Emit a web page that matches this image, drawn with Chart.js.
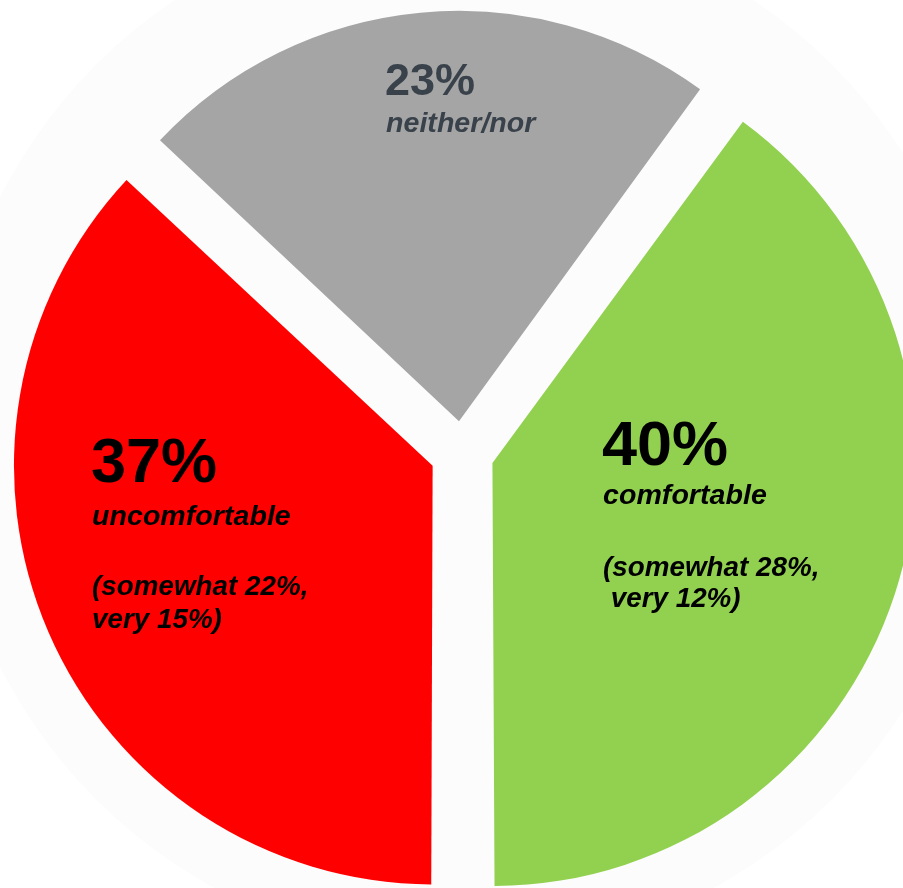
<!DOCTYPE html>
<html><head><meta charset="utf-8">
<script src="https://cdn.jsdelivr.net/npm/chart.js@4.4.0/dist/chart.umd.min.js"></script>
<style>html,body{margin:0;padding:0;background:#fff;overflow:hidden}#c{display:block}</style>
</head><body>
<canvas id="c" width="903" height="888"></canvas>
<script>
// ---- data ----
const categories = ['comfortable', 'uncomfortable', 'neither/nor'];
const values = [40, 37, 23];
const somewhat = [28, 22, null];
const very = [12, 15, null];
const colors = ['#92d050', '#ff0000', '#a5a5a5'];
const textColors = ['#000000', '#000000', '#39424a'];

// label placement relative to pie centre (px)
const labelDX = [140, -371, -77];
const pctDY = [12, 29, -358];
const pctSize = [63, 63, 45];
const catDY = [51, 72, -321];
const det1DY = [123, 142, null];
const det2DY = [154, 175, null];
const det2Prefix = [' ', '', ''];

const bgCircle = {
  id: 'bgCircle',
  beforeDraw(chart) {
    const ctx = chart.ctx;
    ctx.save();
    ctx.fillStyle = '#ffffff';
    ctx.fillRect(0, 0, chart.width, chart.height);
    ctx.fillStyle = '#fcfcfc';
    ctx.beginPath();
    ctx.arc(464, 432, 520, 0, Math.PI * 2);
    ctx.fill();
    ctx.restore();
  }
};

function stretchText(ctx, txt, x, y, sx) {
  ctx.save();
  ctx.translate(x, y);
  ctx.scale(sx, 1);
  ctx.fillText(txt, 0, 0);
  ctx.restore();
}

const sliceLabels = {
  id: 'sliceLabels',
  afterDatasetsDraw(chart) {
    const ctx = chart.ctx;
    const meta = chart.getDatasetMeta(0);
    ctx.save();
    ctx.textBaseline = 'alphabetic';
    ctx.textAlign = 'left';
    meta.data.forEach((arc, i) => {
      const cx = arc.x, cy = arc.y;
      const x = cx + labelDX[i];
      ctx.fillStyle = textColors[i];
      ctx.font = 'bold ' + pctSize[i] + 'px "Liberation Sans", Arial, sans-serif';
      ctx.fillText(values[i] + '%', x, cy + pctDY[i]);
      ctx.font = 'italic bold 27px "Liberation Sans", Arial, sans-serif';
      stretchText(ctx, categories[i], x + 1, cy + catDY[i], 1.06);
      if (somewhat[i] !== null) {
        stretchText(ctx, '(somewhat ' + somewhat[i] + '%,', x + 1, cy + det1DY[i], 1.03);
        stretchText(ctx, det2Prefix[i] + 'very ' + very[i] + '%)', x + 1, cy + det2DY[i], 1.03);
      }
    });
    ctx.restore();
  }
};

new Chart(document.getElementById('c'), {
  type: 'pie',
  data: {
    labels: categories,
    datasets: [{
      data: values,
      backgroundColor: colors,
      borderWidth: 0,
      offset: 128
    }]
  },
  options: {
    responsive: false,
    animation: false,
    rotation: 36,
    radius: 410,
    layout: { padding: { left: 21, top: 18, right: 0, bottom: 0 } },
    plugins: { legend: { display: false }, tooltip: { enabled: false } },
    events: []
  },
  plugins: [bgCircle, sliceLabels]
});
</script>
</body></html>
